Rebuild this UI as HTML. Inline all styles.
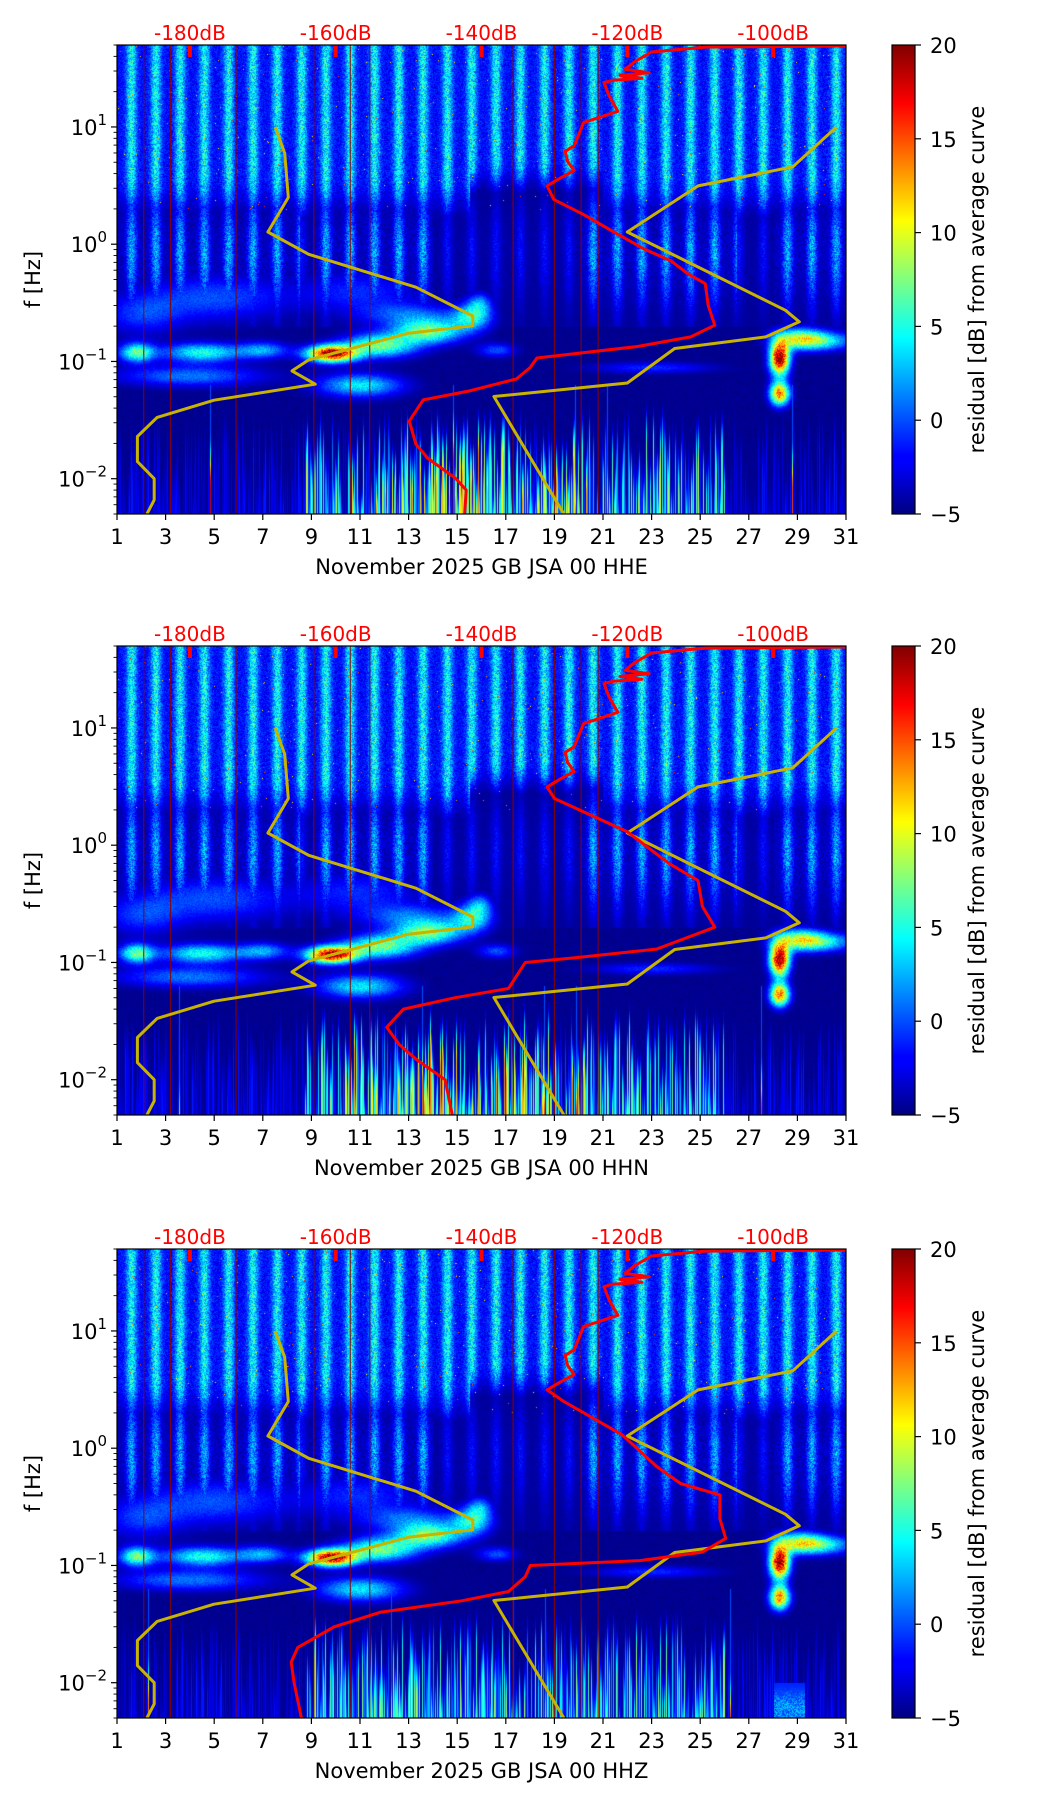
<!DOCTYPE html>
<html><head><meta charset="utf-8">
<style>
html,body{margin:0;padding:0;background:#fff;}
#wrap{position:relative;width:1052px;height:1806px;overflow:hidden;font-family:"DejaVu Sans","Liberation Sans",sans-serif;}
canvas{position:absolute;}
svg{position:absolute;left:0;top:0;}
</style></head>
<body>
<div id="wrap">
<canvas id="c0" width="729" height="469" style="left:117px;top:45px"></canvas>
<canvas id="c1" width="729" height="469" style="left:117px;top:646px"></canvas>
<canvas id="c2" width="729" height="469" style="left:117px;top:1249px"></canvas>
<svg id="ov" width="1052" height="1806"></svg>
</div>
<script>
// ---- data ----
const panelTitles = ["November 2025 GB JSA 00 HHE","November 2025 GB JSA 00 HHN","November 2025 GB JSA 00 HHZ"];
const xTicks = [1,3,5,7,9,11,13,15,17,19,21,23,25,27,29,31];
const dbTicks = [-180,-160,-140,-120,-100];
const cbTicks = [-5,0,5,10,15,20];
const yDecades = [-2,-1,0,1];
const gapDays = [2.1,3.2,5.9,9.1,10.6,11.4,17.3,19.0,20.1,20.8];
// yellow reference curves (dB, Hz)
const yelDb1 = [-185.9,-184.9,-184.9,-187.2,-187.2,-184.5,-176.7,-162.8,-166.0,-163.7,-150,-141.2,-141.2,-149,-163.7,-169.3,-166.5,-167,-168.3];
const yelF1  = [0.005,0.0066,0.01,0.014,0.0229,0.0333,0.0467,0.064,0.083,0.103,0.174,0.202,0.244,0.43,0.82,1.27,2.5,5.96,10];
const yelDb2 = [-128.7,-138.3,-120,-113.5,-101,-96.4,-98.3,-120,-110.3,-97.3,-91.3];
const yelF2  = [0.005,0.0502,0.0655,0.129,0.162,0.218,0.273,1.27,3.14,4.57,10];
// red average curves (dB, Hz)
const redTopDb = [-90,-109.3,-116.7,-119,-120.3,-117,-121,-118,-122,-123.2,-122.5,-121.3,-126,-127.3,-128.5,-128.2,-127.3,-129.2,-131];
const redTopF  = [49,48,43.6,36,31,29,27.5,26,25,23.9,18.4,13.6,10.9,6.9,6.2,5.1,4.25,3.66,3.14];
const redDb0 = [-130.1,-126,-122.3,-117.7,-114,-111.7,-109.3,-108.9,-108,-111.3,-118.7,-132.4,-133.3,-135.2,-141.7,-148,-149.9,-149,-147.4,-143.5,-142.1,-142.3];
const redF0  = [2.41,1.79,1.32,0.91,0.72,0.56,0.46,0.30,0.204,0.162,0.134,0.107,0.089,0.071,0.056,0.047,0.031,0.0197,0.015,0.01,0.008,0.005];
const redDb1 = [-130,-120,-114.3,-110.3,-109.7,-108,-116,-127,-134,-136.3,-143.7,-150.7,-153,-151.3,-149,-145,-144];
const redF1  = [2.5,1.3,0.7,0.5,0.3,0.2,0.13,0.11,0.1,0.06,0.05,0.04,0.028,0.02,0.015,0.01,0.005];
const redDb2 = [-128.7,-120.7,-116,-112.7,-107.3,-107.3,-106.5,-109.7,-118.3,-133.3,-134,-136.3,-142.7,-153.8,-160.2,-165.2,-166.1,-165.7,-164.7];
const redF2  = [2.5,1.3,0.7,0.5,0.4,0.25,0.17,0.13,0.11,0.1,0.08,0.06,0.05,0.04,0.03,0.02,0.015,0.01,0.005];
const redDbs=[redDb0,redDb1,redDb2], redFs=[redF0,redF1,redF2];

// ---- geometry ----
const X0=117, PW=729, PH=469, tops=[45,646,1249];
const LF_TOP=Math.log10(50), LF_BOT=Math.log10(0.005);
const xDay=d=>X0+(d-1)/30*PW;
const xDb=db=>X0+(db+190)/100*PW;
const yF=(t,f)=>t+(LF_TOP-Math.log10(f))/(LF_TOP-LF_BOT)*PH;
const yCb=(t,v)=>t+(20-v)/25*PH;

function jet(x){x=Math.max(0,Math.min(1,x));const c=v=>Math.round(255*Math.max(0,Math.min(1,v)));
 return [c(1.5-Math.abs(4*x-3)),c(1.5-Math.abs(4*x-2)),c(1.5-Math.abs(4*x-1))];}
function h(a,b){let n=(a*374761393+b*668265263)|0;n=(n^(n>>>13))*1274126177|0;n=n^(n>>>16);return ((n>>>0)%100000)/100000;}
function ss(a,b,x){let t=Math.max(0,Math.min(1,(x-a)/(b-a)));return t*t*(3-2*t);}
const blobs=[[1.8,-0.92,0.7,0.08,12],[4.5,-0.92,1.6,0.08,10],[7,-0.9,1.0,0.07,7],[9.8,-0.93,1.0,0.07,24],[11.8,-0.86,1.5,0.1,12],
 [13.8,-0.74,1.4,0.1,12],[15.6,-0.62,0.8,0.11,9],[11,-1.2,1.7,0.1,9],[4,-1.12,3.0,0.09,6],[16.6,-0.9,0.8,0.06,5],
 [28.25,-0.97,0.4,0.14,25],[28.25,-1.27,0.4,0.1,19],[30,-0.82,1.3,0.08,9],[29,-0.8,1.0,0.09,11],[23,-1.05,2.5,0.05,4],
 [5,-0.45,3.0,0.2,5],[11,-0.4,2.4,0.18,4],[15.9,-0.5,0.5,0.09,6],[2,-0.6,1.6,0.17,4],[13,-0.6,2,0.1,5]];
function val(p,day,lf,px,py){
 const r=h(px*3+p,py*7+1), r2=h(px+p*999,py);
 let v=-5+0.8*r2;
 const fr=day-Math.floor(day);
 const s=Math.exp(-Math.pow((fr-0.58)/0.21,2));
 let w=ss(0.05,0.6,lf);
 let dark=(day>15.5&&day<21)?ss(0.3,0.75,lf):1;
 let up=-3+2.5*r+s*(4.5+3.5*r);
 if(w>0) v=Math.max(v,-5+w*dark*(up+5));
 if(lf>0.3&&r>0.996) v=10+6*r2;
 if(lf>-0.7&&lf<=0.6){
   let wd=(day<8.5||(day>9&&day<14)||(day>20&&day<26.5)||day>28)?1:0.4;
   let env=Math.exp(-Math.pow((lf+0.05)/0.5,2));
   v=Math.max(v,-4.5+wd*env*(4*s+3.5*r*s+2*r));
 }
 let b=0;
 for(const q of blobs){b+=q[4]*Math.exp(-Math.pow((day-q[0])/q[2],2)-Math.pow((lf-q[1])/q[3],2));}
 if(b>0.3) v=Math.max(v,-5+b*(0.85+0.3*r));
 if(lf<-1.2){
   const col=px;
   const cr=h(col+p*31,17);
   let env=(day>8.7&&day<26)?((day>10.5&&day<20.5)?1:0.8):0.2;
   if(p==2) env=(day>8.7&&day<26)?0.75:0.2;
   let top=-1.25-0.8*h(col,p+5);
   let fade=ss(top,top-0.5,lf);
   v=Math.max(v,-5+env*fade*cr*19);
   if(cr>0.985) v=Math.max(v,(10+8*h(col,3))*fade);
 }
 if(p==2&&day>28&&day<29.3&&lf<-2.0) v=Math.max(v,-1+5*r*ss(-2.0,-2.2,lf));
 return v;
}
for(let p=0;p<3;p++){
 const cv=document.getElementById('c'+p),ctx=cv.getContext('2d');
 const im=ctx.createImageData(PW,PH),d=im.data;
 for(let py=0;py<PH;py++){
  const lf=LF_TOP-py/PH*(LF_TOP-LF_BOT);
  for(let px=0;px<PW;px++){
   const day=1+px/PW*30;
   const c=jet((val(p,day,lf,px,py)+5)/25);
   const i=(py*PW+px)*4;d[i]=c[0];d[i+1]=c[1];d[i+2]=c[2];d[i+3]=255;
  }
 }
 ctx.putImageData(im,0,0);
}
// ---- overlay ----
const NS="http://www.w3.org/2000/svg",svg=document.getElementById('ov');
function mk(tag,attrs,parent,text){const e=document.createElementNS(NS,tag);for(const k in attrs)e.setAttribute(k,attrs[k]);if(text!==undefined)e.textContent=text;(parent||svg).appendChild(e);return e;}
const defs=mk('defs',{});
const lg=mk('linearGradient',{id:'jet',x1:0,y1:1,x2:0,y2:0},defs);
[[0,'#000080'],[0.11,'#0000ff'],[0.125,'#0000ff'],[0.375,'#00ffff'],[0.625,'#ffff00'],[0.875,'#ff0000'],[1,'#800000']].forEach(s=>mk('stop',{offset:s[0],'stop-color':s[1]},lg));
function path(xs,ys){return xs.map((x,i)=>(i?'L':'M')+x.toFixed(1)+','+ys[i].toFixed(1)).join('');}
for(let p=0;p<3;p++){
 const t=tops[p],b=t+PH;
 const g=mk('g',{});
 
 
 gapDays.forEach(dd=>{const l=mk('line',{x1:xDay(dd),x2:xDay(dd),y1:t,y2:b,stroke:'#8b0000','stroke-width':1.2,opacity:0.85},g);
  });
 dbTicks.forEach(db=>{const x=xDb(db);
  const tk=mk('rect',{x:x-2,y:t,width:4,height:12,fill:'#ff0000'},g);
  
  const tx=mk('text',{x:x,y:t-5,'text-anchor':'middle','font-size':20,fill:'#ff0000'},g,db+'dB');
  });
 [[yelDb1,yelF1],[yelDb2,yelF2]].forEach((c,i)=>{const pa=mk('path',{d:path(c[0].map(xDb),c[1].map(f=>yF(t,f))),fill:'none',stroke:'#c8b400','stroke-width':3,'stroke-linejoin':'round'},g);
  });
 const rdb=redTopDb.concat(redDbs[p]),rf=redTopF.concat(redFs[p]);
 const rp=mk('path',{d:path(rdb.map(xDb),rf.map(f=>yF(t,f))),fill:'none',stroke:'#ff0000','stroke-width':3,'stroke-linejoin':'round'},g);
 
 const fr=mk('rect',{x:X0,y:t,width:PW,height:PH,fill:'none',stroke:'#000','stroke-width':1.2},g);
 
 xTicks.forEach(d=>{const x=xDay(d);mk('line',{x1:x,x2:x,y1:b,y2:b+6,stroke:'#000','stroke-width':1.2},g);
  const tx=mk('text',{x:x,y:b+30,'text-anchor':'middle','font-size':21,fill:'#000'},g,String(d));
  });
 const xl=mk('text',{x:X0+PW/2,y:b+60,'text-anchor':'middle','font-size':21,fill:'#000'},g,panelTitles[p]);
 
 yDecades.forEach(e=>{const y=yF(t,Math.pow(10,e));mk('line',{x1:X0-6,x2:X0,y1:y,y2:y,stroke:'#000','stroke-width':1.2},g);
  const tx=mk('text',{x:X0-10,y:y+8,'text-anchor':'end','font-size':21,fill:'#000'},g);
  
  mk('tspan',{},tx,'10');
  mk('tspan',{dy:-10,'font-size':15},tx,e<0?'\u2212'+(-e):String(e));});
 for(let e=-3;e<=1;e++)for(let m=2;m<=9;m++){const f=m*Math.pow(10,e);if(f<0.005||f>50)continue;const y=yF(t,f);
  mk('line',{x1:X0-3.5,x2:X0,y1:y,y2:y,stroke:'#000','stroke-width':0.9},g);}
 const yl=mk('text',{x:0,y:0,'text-anchor':'middle','font-size':21,fill:'#000',transform:'translate(40,'+(t+PH/2)+') rotate(-90)'},g,'f [Hz]');
 
 const cb=mk('rect',{x:892,y:t,width:23,height:PH,fill:'url(#jet)',stroke:'#000','stroke-width':1.2},g);
 
 cbTicks.forEach(v=>{const y=yCb(t,v);mk('line',{x1:915,x2:921,y1:y,y2:y,stroke:'#000','stroke-width':1.2},g);
  const tx=mk('text',{x:930,y:y+8,'font-size':21,fill:'#000'},g,v<0?'\u2212'+(-v):String(v));
  });
 const cl=mk('text',{x:0,y:0,'text-anchor':'middle','font-size':21,fill:'#000',transform:'translate(984,'+(t+PH/2)+') rotate(-90)'},g,'residual [dB] from average curve');
 
}
</script>
</body></html>
